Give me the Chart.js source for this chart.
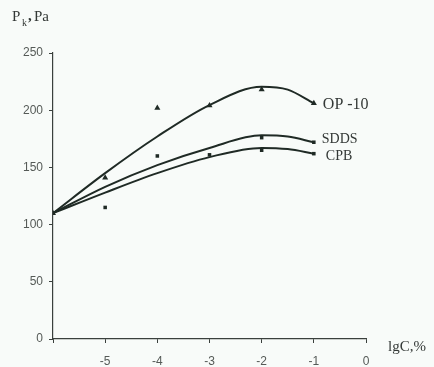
<!DOCTYPE html>
<html>
<head>
<meta charset="utf-8">
<script src="https://cdn.jsdelivr.net/npm/chart.js@4.4.0/dist/chart.umd.min.js"></script>
<style>
  html, body { margin: 0; padding: 0; background: #f8fbf9; }
  #wrap { width: 434px; height: 367px; position: relative; }
</style>
</head>
<body>
<div id="wrap"><canvas id="c" width="434" height="367"></canvas></div>
<script>
// ---- data ----
const xTicks = [-6, -5, -4, -3, -2, -1, 0];
const yTicks = [0, 50, 100, 150, 200, 250];

// fitted curves
const curveX    = [-6, -5, -4, -3, -2, -1.5, -1];
const op10Curve = [110, 145, 177, 204.5, 220.5, 218, 206];
const sddsCurve = [110, 133, 152, 167, 178, 177, 172];
const cpbCurve  = [110, 128, 145, 159, 167, 166, 162];

// experimental points
const op10PtsX = [-6, -5, -4, -3, -2, -1];
const op10PtsY = [110, 141, 202, 204, 218, 206];
const sddsPtsX = [-4, -2, -1];
const sddsPtsY = [160, 176, 172];
const cpbPtsX  = [-6, -5, -3, -2, -1];
const cpbPtsY  = [110, 115, 161, 165, 162];

const seriesNames = ['OP -10', 'SDDS', 'CPB'];

const ink = '#1f2a25';
const tickInk = '#555a57';

function pts(xs, ys) { return xs.map((x, i) => ({ x: x, y: ys[i] })); }

const labelPlugin = {
  id: 'labels',
  afterDraw(chart) {
    const ctx = chart.ctx;
    const xs = chart.scales.x, ys = chart.scales.y;
    ctx.save();
    ctx.fillStyle = '#333836';
    ctx.textBaseline = 'middle';
    ctx.textAlign = 'left';
    // series labels next to line ends
    ctx.font = '16px "Liberation Serif", "DejaVu Serif", serif';
    ctx.fillText(seriesNames[0], xs.getPixelForValue(-1) + 9, ys.getPixelForValue(op10Curve[op10Curve.length - 1]) + 1);
    ctx.font = '14px "Liberation Serif", "DejaVu Serif", serif';
    ctx.fillText(seriesNames[1], xs.getPixelForValue(-1) + 8, ys.getPixelForValue(sddsCurve[sddsCurve.length - 1]) - 3);
    ctx.fillText(seriesNames[2], xs.getPixelForValue(-1) + 12, ys.getPixelForValue(cpbCurve[cpbCurve.length - 1]) + 3);
    // y axis title  P_k, Pa
    ctx.font = '15px "Liberation Serif", "DejaVu Serif", serif';
    ctx.fillText('P', 12, 17);
    ctx.font = '10px "Liberation Serif", "DejaVu Serif", serif';
    ctx.fillText('k', 22, 23);
    ctx.font = 'bold 15px "Liberation Serif", "DejaVu Serif", serif';
    ctx.fillText(',', 28, 16);
    ctx.font = '15px "Liberation Serif", "DejaVu Serif", serif';
    ctx.fillText('Pa', 34, 17);
    // x axis title
    ctx.font = '15px "Liberation Serif", "DejaVu Serif", serif';
    ctx.fillText('lgC,%', 388, 347);
    ctx.restore();
  }
};

new Chart(document.getElementById('c'), {
  type: 'scatter',
  data: {
    datasets: [
      { type: 'line', data: pts(curveX, op10Curve), borderColor: ink, borderWidth: 2, pointRadius: 0, tension: 0.4, cubicInterpolationMode: 'monotone', fill: false },
      { type: 'line', data: pts(curveX, sddsCurve), borderColor: ink, borderWidth: 2, pointRadius: 0, tension: 0.4, cubicInterpolationMode: 'monotone', fill: false },
      { type: 'line', data: pts(curveX, cpbCurve),  borderColor: ink, borderWidth: 2, pointRadius: 0, tension: 0.4, cubicInterpolationMode: 'monotone', fill: false },
      { data: pts(op10PtsX, op10PtsY), pointStyle: 'triangle', pointRadius: 3.5, backgroundColor: ink, borderColor: ink, borderWidth: 0 },
      { data: pts(sddsPtsX, sddsPtsY), pointStyle: 'rect', pointRadius: 2.5, backgroundColor: ink, borderColor: ink, borderWidth: 0 },
      { data: pts(cpbPtsX, cpbPtsY),   pointStyle: 'rect', pointRadius: 2.5, backgroundColor: ink, borderColor: ink, borderWidth: 0 }
    ]
  },
  options: {
    responsive: false,
    animation: false,
    layout: { padding: { left: 0, right: 68, top: 53, bottom: 0 } },
    plugins: { legend: { display: false }, tooltip: { enabled: false } },
    scales: {
      x: {
        type: 'linear', min: -6, max: 0,
        afterBuildTicks(s) { s.ticks = xTicks.map(v => ({ value: v })); },
        afterFit(s) { s.height = 28; },
        ticks: {
          color: tickInk, padding: 11,
          font: { family: '"Liberation Sans", Arial, sans-serif', size: 12 },
          callback: v => (v === -6 ? '' : String(v))
        },
        grid: { drawOnChartArea: false, drawTicks: true, tickLength: 4, color: '#3a403d', lineWidth: 1 },
        border: { display: true, color: '#3a403d', width: 1.2 }
      },
      y: {
        type: 'linear', min: 0, max: 250,
        afterBuildTicks(s) { s.ticks = yTicks.map(v => ({ value: v })); },
        afterFit(s) { s.width = 53; },
        ticks: {
          color: tickInk, padding: 6,
          font: { family: '"Liberation Sans", Arial, sans-serif', size: 12 }
        },
        grid: { drawOnChartArea: false, drawTicks: true, tickLength: 4, color: '#3a403d', lineWidth: 1 },
        border: { display: true, color: '#3a403d', width: 1.2 }
      }
    }
  },
  plugins: [labelPlugin]
});
</script>
</body>
</html>
